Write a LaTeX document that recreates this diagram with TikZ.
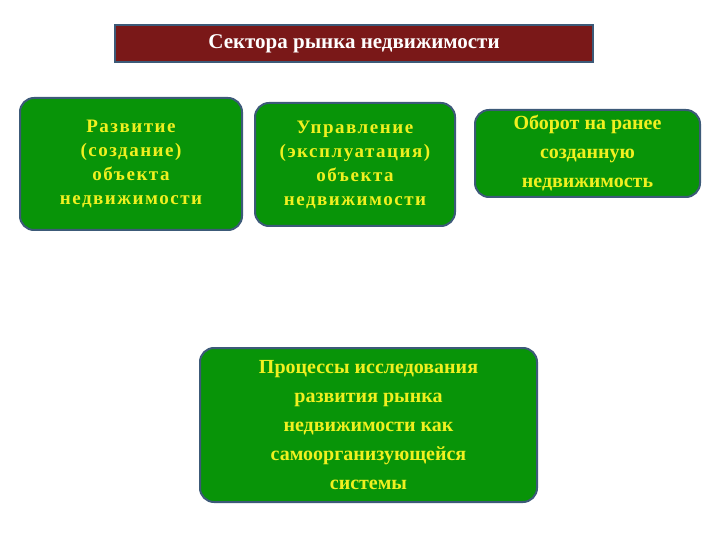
\documentclass[tikz,border=0pt]{standalone}
\usepackage{fontspec}
\setmainfont{Liberation Serif}
\definecolor{gr}{HTML}{089408}
\definecolor{bd}{HTML}{3C5A78}
\definecolor{tr}{HTML}{7A1818}
\definecolor{yl}{HTML}{F0F020}
\begin{document}
\begin{tikzpicture}[x=1pt,y=-1pt,
  box/.style={draw=bd,line width=2pt,fill=gr,rounded corners=14pt,text=yl,font=\bfseries,align=center,inner sep=0pt}]
\useasboundingbox (0,0) rectangle (720,540);
\node[draw=bd,line width=1.5pt,fill=tr,minimum width=478pt,minimum height=37pt,text=white,font=\fontsize{21}{24}\selectfont\bfseries] (t) at (354,43.5) {Сектора рынка недвижимости};
\node[box,minimum width=222pt,minimum height=132pt,font=\fontsize{19}{24}\selectfont\bfseries\addfontfeatures{LetterSpace=8}] (a) at (131,164) {Развитие\\(создание)\\объекта\\недвижимости};
\node[box,minimum width=200pt,minimum height=123pt,font=\fontsize{19}{24}\selectfont\bfseries\addfontfeatures{LetterSpace=8}] (b) at (355,164.5) {Управление\\(эксплуатация)\\объекта\\недвижимости};
\node[box,minimum width=225pt,minimum height=87pt,font=\fontsize{20}{29}\selectfont\bfseries] (c) at (587.5,153.5) {Оборот на ранее\\созданную\\недвижимость};
\node[box,minimum width=337pt,minimum height=154pt,font=\fontsize{20}{29}\selectfont\bfseries] (d) at (368.5,425) {Процессы исследования\\развития рынка\\недвижимости как\\самоорганизующейся\\системы};
\end{tikzpicture}
\end{document}
